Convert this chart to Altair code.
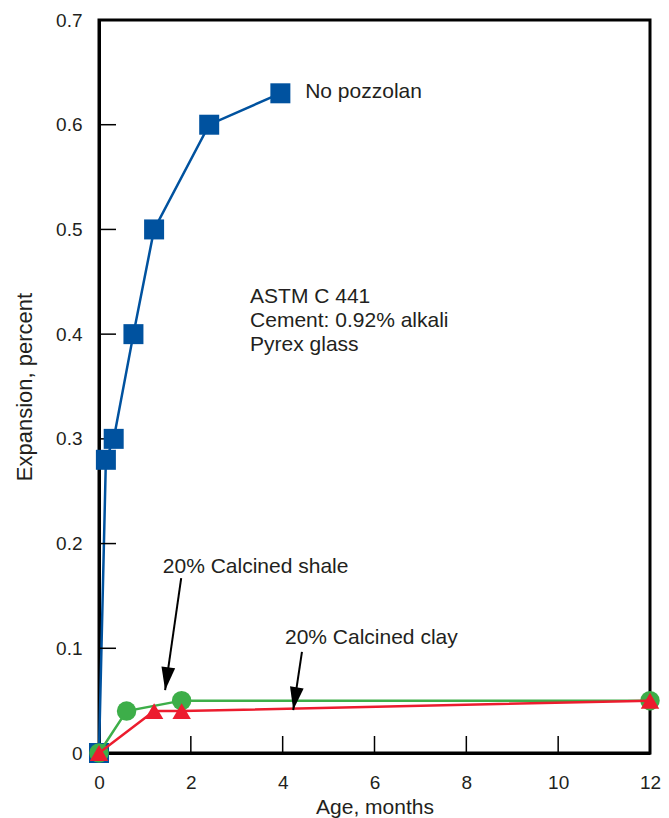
import altair as alt
import pandas as pd

# ---- data ----
months_none = [0, 0.15, 0.32, 0.75, 1.2, 2.4, 3.95]
exp_none = [0, 0.28, 0.30, 0.40, 0.50, 0.60, 0.63]

months_shale = [0, 0.6, 1.8, 12]
exp_shale = [0, 0.04, 0.05, 0.05]

months_clay = [0, 1.2, 1.8, 12]
exp_clay = [0, 0.04, 0.04, 0.05]

x_tick_values = [0, 2, 4, 6, 8, 10, 12]
y_tick_values = [0, 0.1, 0.2, 0.3, 0.4, 0.5, 0.6, 0.7]
inner_x_ticks = [2, 4, 6, 8, 10]
inner_y_ticks = [0.1, 0.2, 0.3, 0.4, 0.5, 0.6]

note_text = ["No pozzolan", "ASTM C 441", "Cement: 0.92% alkali", "Pyrex glass",
             "20% Calcined shale", "20% Calcined clay"]
note_x = [4.49, 3.29, 3.29, 3.29, 1.39, 4.05]
note_y = [0.631, 0.4355, 0.4126, 0.3897, 0.178, 0.110]

arrow_x_start = [1.79, 4.42]
arrow_y_start = [0.167, 0.0965]
arrow_x_tip = [1.44, 4.23]
arrow_y_tip = [0.060, 0.041]
arrow_angle = [8, 9]

# ---- layout / style ----
W, H = 551, 733
FONT = "Liberation Sans"
TXT = "#231f20"
BLUE, GREEN, RED = "#00529f", "#3dae49", "#ec1c2e"

xs = alt.Scale(domain=[0, 12], nice=False, zero=False)
ys = alt.Scale(domain=[0, 0.7], nice=False, zero=False)

df_none = pd.DataFrame({"m": months_none, "e": exp_none})
df_shale = pd.DataFrame({"m": months_shale, "e": exp_shale})
df_clay = pd.DataFrame({"m": months_clay, "e": exp_clay})

x_axis = alt.Axis(values=x_tick_values, ticks=False, labelPadding=20,
                  title="Age, months", titleY=54, titleBaseline="middle",
                  titleFontSize=21, labelFlush=False)
y_axis = alt.Axis(values=y_tick_values, ticks=False, labelPadding=17,
                  labelExpr="datum.value == 0 ? '0' : format(datum.value, '.1f')",
                  title="Expansion, percent", titleX=-75, titleY=H / 2,
                  titleFontSize=22, titleBaseline="middle")

def xenc(field):
    return alt.X(f"{field}:Q", scale=xs, axis=x_axis, title="Age, months")

def yenc(field):
    return alt.Y(f"{field}:Q", scale=ys, axis=y_axis, title="Expansion, percent")

blue_line = alt.Chart(df_none).mark_line(color=BLUE, strokeWidth=2.5).encode(
    x=xenc("m"), y=yenc("e"), order="m:Q")
blue_pts = alt.Chart(df_none).mark_point(shape="square", filled=True, opacity=1,
                                         color=BLUE, size=400).encode(x=xenc("m"), y=yenc("e"))

green_line = alt.Chart(df_shale).mark_line(color=GREEN, strokeWidth=2.5).encode(
    x=xenc("m"), y=yenc("e"), order="m:Q")
green_pts = alt.Chart(df_shale).mark_point(shape="circle", filled=True, opacity=1,
                                           color=GREEN, size=380).encode(x=xenc("m"), y=yenc("e"))

red_line = alt.Chart(df_clay).mark_line(color=RED, strokeWidth=2.5).encode(
    x=xenc("m"), y=yenc("e"), order="m:Q")
red_pts = alt.Chart(df_clay).mark_point(shape="triangle-up", filled=True, opacity=1,
                                        color=RED, size=340).encode(x=xenc("m"), y=yenc("e"))

xt = alt.Chart(pd.DataFrame({"t": inner_x_ticks})).mark_rule(color="black", strokeWidth=1.5).encode(
    x=xenc("t"), y=alt.value(H), y2=alt.value(H - 17))
yt = alt.Chart(pd.DataFrame({"t": inner_y_ticks})).mark_rule(color="black", strokeWidth=1.5).encode(
    y=yenc("t"), x=alt.value(0), x2=alt.value(17))

notes = alt.Chart(pd.DataFrame({"x": note_x, "y": note_y, "t": note_text})).mark_text(
    align="left", baseline="middle", font=FONT, fontSize=21, color=TXT).encode(
    x=xenc("x"), y=yenc("y"), text="t:N")

df_arrow = pd.DataFrame({"x0": arrow_x_start, "y0": arrow_y_start,
                         "x1": arrow_x_tip, "y1": arrow_y_tip, "a": arrow_angle})
shaft = alt.Chart(df_arrow).mark_rule(color="black", strokeWidth=2).encode(
    x=xenc("x0"), y=yenc("y0"), x2="x1:Q", y2="y1:Q")
head = alt.Chart(df_arrow).mark_point(shape="M-0.3,-1L0.3,-1L0,0Z", filled=True, opacity=1,
                                      color="black", size=2116).encode(
    x=xenc("x1"), y=yenc("y1"), angle=alt.Angle("a:Q", scale=None))

chart = alt.layer(
    blue_line, xt, yt, blue_pts, green_line, green_pts, red_line, red_pts, shaft, head, notes
).properties(
    width=W, height=H,
    padding={"left": 99, "top": 20, "right": 19, "bottom": 65},
    autosize="none",
).configure_view(
    stroke="black", strokeWidth=3
).configure_axis(
    domainColor="black", domainWidth=3, grid=False,
    labelFont=FONT, labelFontSize=19, labelColor=TXT,
    titleFont=FONT, titleFontWeight="normal", titleColor=TXT,
)

chart.save("out.html", embed_options={"renderer": "svg", "actions": False})
